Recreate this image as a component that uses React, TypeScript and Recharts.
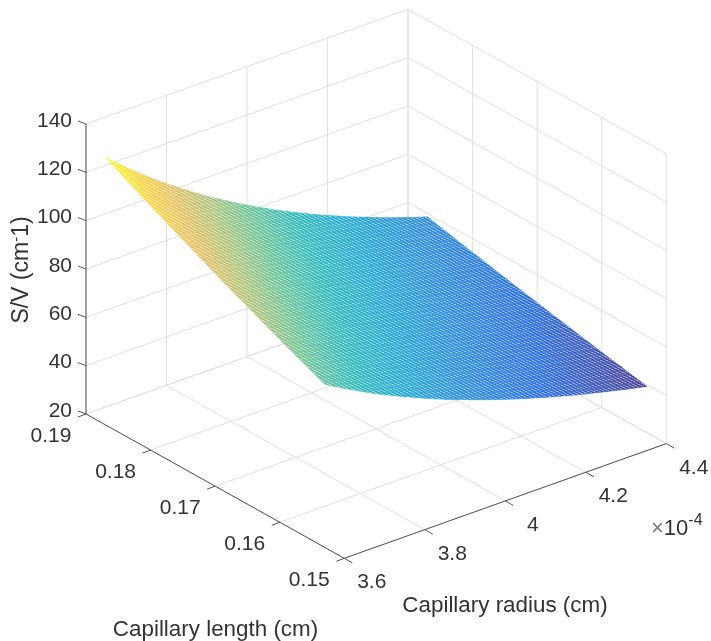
import React from "react";
import { ScatterChart, Scatter, XAxis, YAxis, ReferenceLine } from "recharts";

// Capillary radius (×10^-4 cm) columns of the surface
const radii = [3.6, 3.625, 3.65, 3.675, 3.7, 3.725, 3.75, 3.775, 3.8, 3.825, 3.85, 3.875, 3.9, 3.925, 3.95, 3.975, 4.0, 4.025, 4.05, 4.075, 4.1, 4.125, 4.15, 4.175, 4.2, 4.225, 4.25, 4.275, 4.3, 4.325, 4.35, 4.375, 4.4];
// Capillary length (cm) rows of the surface
const lengths = [0.187, 0.185, 0.183, 0.181, 0.179, 0.177, 0.175, 0.173, 0.171, 0.169, 0.167, 0.165, 0.163, 0.161, 0.159, 0.157, 0.155, 0.153];
// S/V (cm^-1), one row per length, one column per radius
const surfaceValues = [
  [130.7, 127.1, 123.7, 120.4, 117.1, 114.0, 111.0, 108.1, 105.3, 102.6, 99.9, 97.4, 94.9, 92.5, 90.2, 87.9, 85.8, 83.6, 81.6, 79.6, 77.7, 75.8, 74.0, 72.3, 70.5, 68.9, 67.3, 65.7, 64.2, 62.7, 61.3, 59.9, 58.6],
  [127.9, 124.4, 121.0, 117.8, 114.6, 111.6, 108.6, 105.8, 103.0, 100.4, 97.8, 95.3, 92.9, 90.5, 88.2, 86.0, 83.9, 81.8, 79.8, 77.9, 76.0, 74.2, 72.4, 70.7, 69.0, 67.4, 65.8, 64.3, 62.8, 61.4, 60.0, 58.6, 57.3],
  [125.2, 121.8, 118.5, 115.3, 112.2, 109.2, 106.3, 103.5, 100.9, 98.2, 95.7, 93.3, 90.9, 88.6, 86.4, 84.2, 82.1, 80.1, 78.2, 76.3, 74.4, 72.6, 70.9, 69.2, 67.6, 66.0, 64.5, 63.0, 61.5, 60.1, 58.7, 57.4, 56.1],
  [122.4, 119.1, 115.8, 112.7, 109.7, 106.8, 104.0, 101.2, 98.6, 96.0, 93.6, 91.2, 88.9, 86.6, 84.5, 82.3, 80.3, 78.3, 76.4, 74.6, 72.8, 71.0, 69.3, 67.7, 66.1, 64.5, 63.0, 61.6, 60.1, 58.8, 57.4, 56.1, 54.8],
  [119.8, 116.5, 113.4, 110.3, 107.4, 104.5, 101.8, 99.1, 96.5, 94.0, 91.6, 89.2, 87.0, 84.8, 82.7, 80.6, 78.6, 76.7, 74.8, 73.0, 71.2, 69.5, 67.8, 66.2, 64.7, 63.1, 61.7, 60.2, 58.9, 57.5, 56.2, 54.9, 53.7],
  [117.1, 113.9, 110.8, 107.8, 104.9, 102.2, 99.5, 96.8, 94.3, 91.9, 89.5, 87.2, 85.0, 82.9, 80.8, 78.8, 76.8, 74.9, 73.1, 71.3, 69.6, 67.9, 66.3, 64.7, 63.2, 61.7, 60.3, 58.9, 57.5, 56.2, 54.9, 53.7, 52.5],
  [114.5, 111.4, 108.4, 105.4, 102.6, 99.9, 97.3, 94.7, 92.2, 89.8, 87.5, 85.3, 83.1, 81.0, 79.0, 77.0, 75.1, 73.3, 71.5, 69.7, 68.1, 66.4, 64.8, 63.3, 61.8, 60.4, 58.9, 57.6, 56.3, 55.0, 53.7, 52.5, 51.3],
  [111.9, 108.8, 105.9, 103.0, 100.3, 97.6, 95.0, 92.5, 90.1, 87.8, 85.5, 83.4, 81.2, 79.2, 77.2, 75.3, 73.4, 71.6, 69.9, 68.2, 66.5, 64.9, 63.4, 61.9, 60.4, 59.0, 57.6, 56.3, 55.0, 53.7, 52.5, 51.3, 50.1],
  [109.3, 106.3, 103.4, 100.6, 98.0, 95.3, 92.8, 90.4, 88.0, 85.8, 83.6, 81.4, 79.4, 77.4, 75.4, 73.5, 71.7, 69.9, 68.2, 66.6, 65.0, 63.4, 61.9, 60.4, 59.0, 57.6, 56.3, 55.0, 53.7, 52.5, 51.3, 50.1, 49.0],
  [106.7, 103.8, 101.0, 98.3, 95.6, 93.1, 90.6, 88.2, 85.9, 83.7, 81.6, 79.5, 77.5, 75.5, 73.6, 71.8, 70.0, 68.3, 66.6, 65.0, 63.4, 61.9, 60.4, 59.0, 57.6, 56.2, 54.9, 53.7, 52.4, 51.2, 50.1, 48.9, 47.8],
  [104.2, 101.4, 98.6, 96.0, 93.4, 90.9, 88.5, 86.2, 83.9, 81.8, 79.7, 77.6, 75.7, 73.7, 71.9, 70.1, 68.4, 66.7, 65.1, 63.5, 61.9, 60.5, 59.0, 57.6, 56.2, 54.9, 53.6, 52.4, 51.2, 50.0, 48.9, 47.8, 46.7],
  [101.8, 99.0, 96.3, 93.7, 91.2, 88.8, 86.5, 84.2, 82.0, 79.9, 77.8, 75.8, 73.9, 72.0, 70.2, 68.5, 66.8, 65.1, 63.6, 62.0, 60.5, 59.1, 57.6, 56.3, 54.9, 53.7, 52.4, 51.2, 50.0, 48.9, 47.8, 46.7, 45.6],
  [99.3, 96.6, 94.0, 91.4, 89.0, 86.6, 84.3, 82.1, 80.0, 77.9, 75.9, 74.0, 72.1, 70.3, 68.5, 66.8, 65.2, 63.5, 62.0, 60.5, 59.0, 57.6, 56.2, 54.9, 53.6, 52.3, 51.1, 49.9, 48.8, 47.7, 46.6, 45.5, 44.5],
  [96.9, 94.3, 91.7, 89.2, 86.8, 84.5, 82.3, 80.1, 78.1, 76.0, 74.1, 72.2, 70.4, 68.6, 66.9, 65.2, 63.6, 62.0, 60.5, 59.0, 57.6, 56.2, 54.9, 53.6, 52.3, 51.1, 49.9, 48.7, 47.6, 46.5, 45.5, 44.4, 43.4],
  [94.5, 91.9, 89.4, 87.0, 84.7, 82.4, 80.3, 78.2, 76.1, 74.2, 72.2, 70.4, 68.6, 66.9, 65.2, 63.6, 62.0, 60.5, 59.0, 57.6, 56.2, 54.8, 53.5, 52.2, 51.0, 49.8, 48.7, 47.5, 46.4, 45.4, 44.3, 43.3, 42.3],
  [92.1, 89.6, 87.2, 84.8, 82.5, 80.3, 78.2, 76.2, 74.2, 72.3, 70.4, 68.6, 66.9, 65.2, 63.5, 62.0, 60.4, 58.9, 57.5, 56.1, 54.7, 53.4, 52.2, 50.9, 49.7, 48.5, 47.4, 46.3, 45.2, 44.2, 43.2, 42.2, 41.3],
  [89.8, 87.3, 85.0, 82.7, 80.5, 78.3, 76.3, 74.3, 72.3, 70.5, 68.7, 66.9, 65.2, 63.6, 62.0, 60.4, 58.9, 57.5, 56.1, 54.7, 53.4, 52.1, 50.9, 49.6, 48.5, 47.3, 46.2, 45.2, 44.1, 43.1, 42.1, 41.2, 40.2],
  [87.5, 85.1, 82.8, 80.6, 78.4, 76.3, 74.3, 72.4, 70.5, 68.7, 66.9, 65.2, 63.5, 61.9, 60.4, 58.9, 57.4, 56.0, 54.6, 53.3, 52.0, 50.8, 49.5, 48.4, 47.2, 46.1, 45.0, 44.0, 43.0, 42.0, 41.0, 40.1, 39.2],
];

const radiusTicks = [3.6, 3.8, 4.0, 4.2, 4.4];
const radiusTickLabels = ["3.6", "3.8", "4", "4.2", "4.4"];
const lengthTicks = [0.19, 0.18, 0.17, 0.16, 0.15];
const lengthTickLabels = ["0.19", "0.18", "0.17", "0.16", "0.15"];
const svTicks = [20, 40, 60, 80, 100, 120, 140];
const svTickLabels = ["20", "40", "60", "80", "100", "120", "140"];

const parula = [
  [53, 42, 135], [15, 92, 221], [18, 125, 216], [7, 156, 207], [21, 177, 180],
  [89, 189, 140], [165, 190, 107], [225, 185, 82], [252, 206, 46], [249, 251, 14],
];
const parulaPos = [0, 0.11, 0.22, 0.33, 0.44, 0.55, 0.66, 0.77, 0.88, 1];

const W = 711;
const H = 641;
const INK = "#333333";
const FONT = "'Liberation Sans', Arial, sans-serif";

// orthographic view of the MATLAB box
function project(r: number, L: number, z: number) {
  const a = (r - 3.6) / 0.8;
  const b = (0.19 - L) / 0.04;
  return {
    x: 86 + 322 * a + 258.3 * b,
    y: 414 - 114.7 * a + 144.3 * b - (z - 20) * (290 / 120),
  };
}

function colorFor(z: number) {
  const zMin = 39.2;
  const zMax = 130.7;
  const t = Math.max(0, Math.min(1, (z - zMin) / (zMax - zMin)));
  let i = 0;
  while (i < parulaPos.length - 2 && t > parulaPos[i + 1]) i++;
  const u = (t - parulaPos[i]) / (parulaPos[i + 1] - parulaPos[i]);
  const c = parula[i].map((v, k) => Math.round(v + (parula[i + 1][k] - v) * u));
  return `rgb(${c[0]},${c[1]},${c[2]})`;
}

const cells: any[] = [];
for (let i = 0; i < lengths.length - 1; i++) {
  for (let j = 0; j < radii.length - 1; j++) {
    const corners = [
      project(radii[j], lengths[i], surfaceValues[i][j]),
      project(radii[j + 1], lengths[i], surfaceValues[i][j + 1]),
      project(radii[j + 1], lengths[i + 1], surfaceValues[i + 1][j + 1]),
      project(radii[j], lengths[i + 1], surfaceValues[i + 1][j]),
    ];
    const x = corners.reduce((s, p) => s + p.x, 0) / 4;
    const y = corners.reduce((s, p) => s + p.y, 0) / 4;
    const mean = (surfaceValues[i][j] + surfaceValues[i][j + 1] + surfaceValues[i + 1][j + 1] + surfaceValues[i + 1][j]) / 4;
    cells.push({ x, y, offsets: corners.map((p) => [p.x - x, p.y - y]), fill: colorFor(mean) });
  }
}

// outline of the whole surface: carries the mesh texture
const lastRow = lengths.length - 1;
const lastCol = radii.length - 1;
const rim = [
  ...radii.map((r, j) => project(r, lengths[0], surfaceValues[0][j])),
  ...lengths.map((L, i) => project(radii[lastCol], L, surfaceValues[i][lastCol])),
  ...radii.map((r, j) => project(r, lengths[lastRow], surfaceValues[lastRow][j])).reverse(),
  ...lengths.map((L, i) => project(radii[0], L, surfaceValues[i][0])).reverse(),
];
const rimData = [{ x: rim[0].x, y: rim[0].y, offsets: rim.map((p) => [p.x - rim[0].x, p.y - rim[0].y]) }];

type Seg = [{ x: number; y: number }, { x: number; y: number }];
const grid: Seg[] = [];
const axisLines: Seg[] = [];
const rMin = 3.6, rMax = 4.4, lMin = 0.15, lMax = 0.19, zMin = 20, zMax = 140;
svTicks.forEach((z) => {
  grid.push([project(rMin, lMax, z), project(rMax, lMax, z)]);
  grid.push([project(rMax, lMax, z), project(rMax, lMin, z)]);
});
radiusTicks.forEach((r) => {
  grid.push([project(r, lMax, zMin), project(r, lMax, zMax)]);
  grid.push([project(r, lMax, zMin), project(r, lMin, zMin)]);
});
lengthTicks.forEach((L) => {
  grid.push([project(rMax, L, zMin), project(rMax, L, zMax)]);
  grid.push([project(rMin, L, zMin), project(rMax, L, zMin)]);
});
axisLines.push([project(rMin, lMax, zMin), project(rMin, lMax, zMax)]);
axisLines.push([project(rMin, lMax, zMin), project(rMin, lMin, zMin)]);
axisLines.push([project(rMin, lMin, zMin), project(rMax, lMin, zMin)]);
const shift = (p: { x: number; y: number }, dx: number, dy: number) => ({ x: p.x + dx, y: p.y + dy });
svTicks.forEach((z) => {
  const p = project(rMin, lMax, z);
  axisLines.push([p, shift(p, -8, -3)]);
});
lengthTicks.forEach((L) => {
  const p = project(rMin, L, zMin);
  axisLines.push([p, shift(p, -8, 3)]);
});
radiusTicks.forEach((r) => {
  const p = project(r, lMin, zMin);
  axisLines.push([p, shift(p, 8, 4.5)]);
});

const labels = [
  ...svTicks.map((z, i) => ({ ...shift(project(rMin, lMax, z), -14, -5 + 7.5), text: svTickLabels[i], anchor: "end" })),
  ...lengthTicks.map((L, i) => ({ ...shift(project(rMin, L, zMin), -35, 20 + 7.5), text: lengthTickLabels[i], anchor: "middle" })),
  ...radiusTicks.map((r, i) => ({ ...shift(project(r, lMin, zMin), 27.5, 22.5 + 7.5), text: radiusTickLabels[i], anchor: "middle" })),
];
const titles = [
  { x: 215.5, y: 636, text: "Capillary length (cm)" },
  { x: 505, y: 612, text: "Capillary radius (cm)" },
];

const CellShape = (p: any) => (
  <polygon
    points={p.payload.offsets.map((o: number[]) => `${p.cx + o[0]},${p.cy + o[1]}`).join(" ")}
    fill={p.payload.fill}
    stroke={p.payload.fill}
    strokeWidth={0.5}
  />
);
const RimShape = (p: any) => (
  <polygon
    points={p.payload.offsets.map((o: number[]) => `${p.cx + o[0]},${p.cy + o[1]}`).join(" ")}
    fill="url(#meshDots)"
  />
);
const LabelShape = (p: any) => (
  <text x={p.cx} y={p.cy} textAnchor={p.payload.anchor} fontFamily={FONT} fontSize={21} fill={INK}>
    {p.payload.text}
  </text>
);
const TitleShape = (p: any) => (
  <text x={p.cx} y={p.cy} textAnchor="middle" fontFamily={FONT} fontSize={22.4} fill={INK}>
    {p.payload.text}
  </text>
);
const SvTitleShape = (p: any) => (
  <text
    x={p.cx}
    y={p.cy}
    textAnchor="middle"
    fontFamily={FONT}
    fontSize={23}
    fill={INK}
    transform={`rotate(-90 ${p.cx} ${p.cy})`}
  >
    S/V (cm
    <tspan dy={-7} fontSize={15}>-</tspan>
    <tspan dy={7}>1)</tspan>
  </text>
);
const ExponentShape = (p: any) => (
  <text x={p.cx} y={p.cy} fontFamily={FONT} fontSize={22} fill={INK}>
    <tspan fill="#777">×</tspan>
    <tspan>10</tspan>
    <tspan dy={-10} fontSize={16}>-4</tspan>
  </text>
);

export default function App() {
  return (
    <div style={{ position: "absolute", left: 0, top: 0, width: W, height: H, background: "#fff", filter: "blur(0.4px)" }}>
      <ScatterChart width={W} height={H} margin={{ top: 0, right: 0, bottom: 0, left: 0 }}>
        <defs>
          <pattern
            id="meshDots"
            patternUnits="userSpaceOnUse"
            width={10}
            height={10}
            patternTransform="matrix(0.32 -0.115 0.24 0.135 0 0)"
          >
            <rect x={2} y={2} width={6} height={6} fill="#fff" fillOpacity={0.72} />
          </pattern>
        </defs>
        <XAxis type="number" dataKey="x" domain={[0, W]} hide />
        <YAxis type="number" dataKey="y" domain={[0, H]} reversed hide />
        {grid.map((s, i) => (
          <ReferenceLine key={`g${i}`} segment={s} stroke="#e0e0e0" strokeWidth={1} ifOverflow="visible" />
        ))}
        {axisLines.map((s, i) => (
          <ReferenceLine key={`a${i}`} segment={s} stroke="#555" strokeWidth={1} ifOverflow="visible" />
        ))}
        <Scatter data={cells} shape={CellShape} isAnimationActive={false} />
        <Scatter data={rimData} shape={RimShape} isAnimationActive={false} />
        <Scatter data={labels} shape={LabelShape} isAnimationActive={false} />
        <Scatter data={titles} shape={TitleShape} isAnimationActive={false} />
        <Scatter data={[{ x: 28, y: 270 }]} shape={SvTitleShape} isAnimationActive={false} />
        <Scatter data={[{ x: 651, y: 535 }]} shape={ExponentShape} isAnimationActive={false} />
      </ScatterChart>
    </div>
  );
}
